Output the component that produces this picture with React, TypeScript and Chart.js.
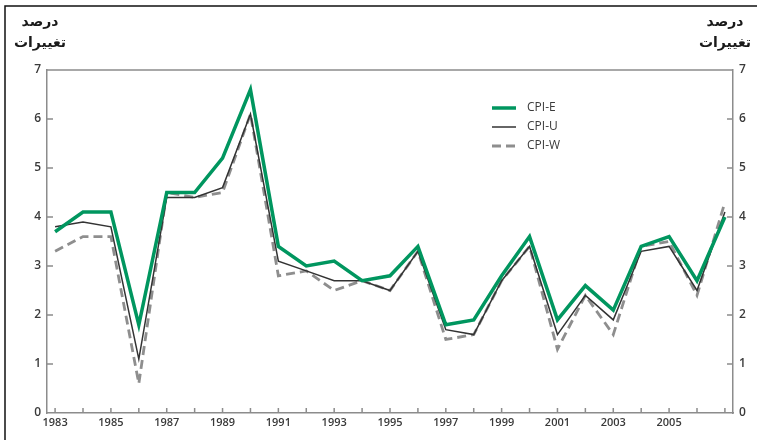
import React, { useEffect, useRef } from "react";
import { Chart, registerables } from "chart.js";

Chart.register(...registerables);

const years = [1983, 1984, 1985, 1986, 1987, 1988, 1989, 1990, 1991, 1992, 1993, 1994, 1995, 1996, 1997, 1998, 1999, 2000, 2001, 2002, 2003, 2004, 2005, 2006, 2007];
const cpiE = [3.7, 4.1, 4.1, 1.8, 4.5, 4.5, 5.2, 6.6, 3.4, 3.0, 3.1, 2.7, 2.8, 3.4, 1.8, 1.9, 2.8, 3.6, 1.9, 2.6, 2.1, 3.4, 3.6, 2.7, 4.0];
const cpiU = [3.8, 3.9, 3.8, 1.1, 4.4, 4.4, 4.6, 6.1, 3.1, 2.9, 2.7, 2.7, 2.5, 3.3, 1.7, 1.6, 2.7, 3.4, 1.6, 2.4, 1.9, 3.3, 3.4, 2.5, 4.1];
const cpiW = [3.3, 3.6, 3.6, 0.6, 4.5, 4.4, 4.5, 6.1, 2.8, 2.9, 2.5, 2.7, 2.5, 3.3, 1.5, 1.6, 2.7, 3.4, 1.3, 2.4, 1.6, 3.4, 3.5, 2.4, 4.3];
const seriesNames = ["CPI-E", "CPI-U", "CPI-W"];
const yTicks = [0, 1, 2, 3, 4, 5, 6, 7];
const xLabelYears = [1983, 1985, 1987, 1989, 1991, 1993, 1995, 1997, 1999, 2001, 2003, 2005];
const titleLine1 = "درصد";
const titleLine2 = "تغییرات";

const GREEN = "#00965f";
const AXIS = "#8c8c8c";
const TEXT = "#3a3a3a";
const FONT = "'Open Sans', 'DejaVu Sans', sans-serif";

const toPts = (vals: number[]) => vals.map((v, i) => ({ x: years[i], y: v }));

const framePlugin = {
  id: "framePlugin",
  beforeDraw(chart: any) {
    const ctx = chart.ctx;
    ctx.save();
    ctx.strokeStyle = "#111";
    ctx.lineWidth = 1.5;
    ctx.beginPath();
    ctx.moveTo(5, 440);
    ctx.lineTo(5, 6);
    ctx.lineTo(757, 6);
    ctx.stroke();
    ctx.restore();
  },
  beforeDatasetsDraw(chart: any) {
    const ctx = chart.ctx;
    const { left, right, top, bottom } = chart.chartArea;
    const xs = chart.scales.x;
    const ys = chart.scales.y;
    ctx.save();
    ctx.strokeStyle = AXIS;
    ctx.lineWidth = 1.5;
    ctx.beginPath();
    ctx.moveTo(left, top);
    ctx.lineTo(right, top);
    years.forEach((yr) => {
      const px = xs.getPixelForValue(yr);
      ctx.moveTo(px, bottom);
      ctx.lineTo(px, bottom - 5);
    });
    yTicks.forEach((t) => {
      if (t === 0 || t === 7) return;
      const py = ys.getPixelForValue(t);
      ctx.moveTo(left, py);
      ctx.lineTo(left + 6, py);
      ctx.moveTo(right, py);
      ctx.lineTo(right - 6, py);
    });
    ctx.stroke();
    ctx.restore();
  },
  afterDraw(chart: any) {
    const ctx = chart.ctx;
    const ds = chart.data.datasets;
    ctx.save();
    ctx.font = `12px ${FONT}`;
    ctx.textBaseline = "middle";
    ctx.textAlign = "left";
    const rows = [108, 127, 146];
    ds.forEach((d: any, i: number) => {
      const y = rows[i];
      ctx.strokeStyle = d.borderColor;
      ctx.lineWidth = d.borderWidth;
      ctx.setLineDash(d.borderDash || []);
      ctx.beginPath();
      ctx.moveTo(492, y);
      ctx.lineTo(516, y);
      ctx.stroke();
      ctx.setLineDash([]);
      ctx.fillStyle = TEXT;
      ctx.fillText(d.label, 527, y);
    });
    ctx.restore();
  },
};

export default function App() {
  const ref = useRef<HTMLCanvasElement | null>(null);
  useEffect(() => {
    if (!ref.current) return;
    const tickFont = { family: FONT, size: 11, weight: 600 as any };
    const chart = new Chart(ref.current, {
      type: "line",
      data: {
        datasets: [
          {
            label: seriesNames[0],
            data: toPts(cpiE),
            borderColor: GREEN,
            borderWidth: 3.5,
            pointRadius: 0,
            tension: 0,
            yAxisID: "y",
          },
          {
            label: seriesNames[1],
            data: toPts(cpiU),
            borderColor: "#333333",
            borderWidth: 1.5,
            pointRadius: 0,
            tension: 0,
            yAxisID: "y",
          },
          {
            label: seriesNames[2],
            data: toPts(cpiW),
            borderColor: "#8e8e8e",
            borderWidth: 2.8,
            borderDash: [9, 5],
            pointRadius: 0,
            tension: 0,
            yAxisID: "y",
          },
        ],
      },
      options: {
        animation: false,
        responsive: true,
        maintainAspectRatio: false,
        layout: { padding: { top: 70, left: 0, right: 0, bottom: 0 } },
        plugins: { legend: { display: false }, tooltip: { enabled: false } },
        scales: {
          x: {
            type: "linear",
            min: 1982.71,
            max: 2007.29,
            grid: { display: false, drawTicks: false },
            border: { display: true, color: AXIS, width: 1.5 },
            ticks: {
              stepSize: 1,
              includeBounds: false,
              autoSkip: false,
              maxRotation: 0,
              padding: 3,
              color: TEXT,
              font: tickFont,
              callback: (v: any) => (xLabelYears.includes(Number(v)) ? String(v) : ""),
            },
            afterFit: (s: any) => {
              s.height = 27;
            },
          },
          y: {
            position: "left",
            min: 0,
            max: 7,
            grid: { display: false, drawTicks: false },
            border: { display: true, color: AXIS, width: 1.5 },
            ticks: {
              stepSize: 1,
              padding: 6,
              color: TEXT,
              font: { family: FONT, size: 12, weight: 600 as any },
              callback: (v: any) => String(v),
            },
            afterFit: (s: any) => {
              s.width = 47;
            },
          },
          y2: {
            position: "right",
            min: 0,
            max: 7,
            grid: { display: false, drawTicks: false },
            border: { display: true, color: AXIS, width: 1.5 },
            ticks: {
              stepSize: 1,
              padding: 6,
              color: TEXT,
              font: { family: FONT, size: 12, weight: 600 as any },
              callback: (v: any) => String(v),
            },
            afterFit: (s: any) => {
              s.width = 24;
            },
          },
        },
      },
      plugins: [framePlugin],
    });
    return () => chart.destroy();
  }, []);

  const titleStyle: React.CSSProperties = {
    position: "absolute",
    width: 80,
    textAlign: "center",
    fontFamily: "'DejaVu Sans', sans-serif",
    fontWeight: 700,
    fontSize: 14,
    lineHeight: "21px",
    color: "#1a1a1a",
    direction: "rtl",
  };

  return (
    <div style={{ position: "fixed", left: 0, top: 0, width: 757, height: 440, background: "#fff" }}>
      <canvas ref={ref} />
      <div style={{ ...titleStyle, left: 0, top: 11 }}>
        <div>{titleLine1}</div>
        <div>{titleLine2}</div>
      </div>
      <div style={{ ...titleStyle, left: 685, top: 11 }}>
        <div>{titleLine1}</div>
        <div>{titleLine2}</div>
      </div>
    </div>
  );
}
